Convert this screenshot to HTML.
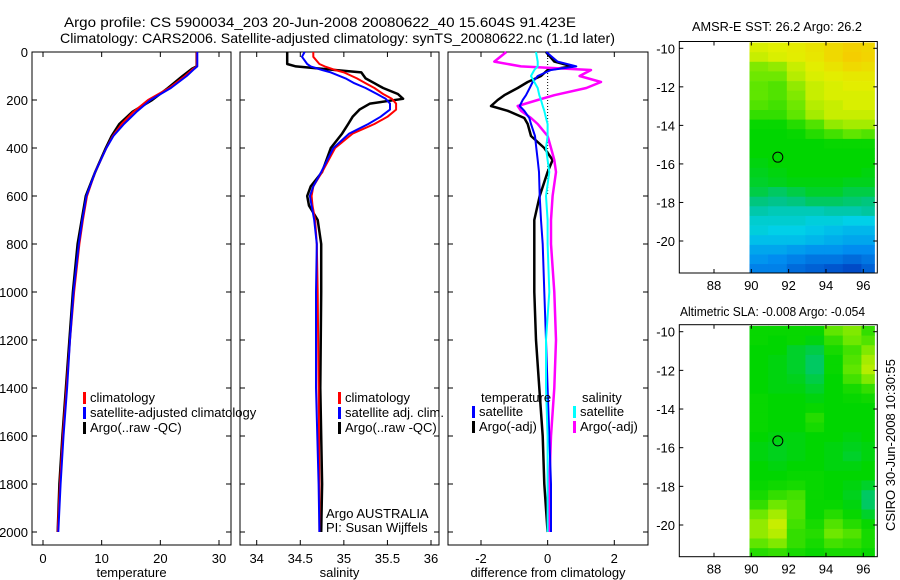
<!DOCTYPE html>
<html><head><meta charset="utf-8">
<style>
html,body{margin:0;padding:0;background:#fff;}
svg{display:block;font-family:"Liberation Sans",sans-serif;}
text{fill:#000;}
</style></head>
<body>
<svg id="fig" width="900" height="580" viewBox="0 0 900 580" xmlns="http://www.w3.org/2000/svg">
<text x="64" y="27" font-size="14" textLength="512" lengthAdjust="spacingAndGlyphs">Argo profile: CS 5900034_203 20-Jun-2008 20080622_40 15.604S 91.423E</text>
<text x="60" y="43" font-size="14" textLength="555" lengthAdjust="spacingAndGlyphs">Climatology: CARS2006. Satellite-adjusted climatology: synTS_20080622.nc (1.1d later)</text>
<text x="692" y="31" font-size="12.7" textLength="170" lengthAdjust="spacingAndGlyphs">AMSR-E SST: 26.2 Argo: 26.2</text>
<text x="680" y="316" font-size="12.7" textLength="185" lengthAdjust="spacingAndGlyphs">Altimetric SLA: -0.008 Argo: -0.054</text>
<text transform="translate(895,445) rotate(-90)" font-size="13" text-anchor="middle">CSIRO 30-Jun-2008 10:30:55</text>
<g id="g"></g>
</svg>
<script>
// ---------- data ----------
const tempClimDepth = [0,60,70,100,150,200,250,300,350,400,500,600,700,800,1000,1200,1400,1600,1800,2000];
const tempClim      = [26.2,26.2,25.6,24.2,21.5,17.9,15.4,13.4,11.9,10.8,8.9,7.5,6.8,6.2,5.3,4.6,4.0,3.4,2.9,2.5];
const tempSat       = [26.3,26.3,25.8,24.5,21.8,18.3,15.9,13.8,12.0,10.8,8.9,7.4,6.7,6.1,5.2,4.6,4.1,3.5,3.0,2.6];
const tempArgo      = [26.2,26.2,25.4,23.8,21.3,18.6,15.2,13.0,11.7,10.7,8.9,7.3,6.6,5.9,5.1,4.5,3.9,3.3,2.8,2.5];
const salDepth = [0,20,50,60,75,85,110,130,150,175,195,215,240,270,300,340,400,500,560,600,640,700,800,1000,1400,1800,2000];
const salClim  = [34.65,34.65,34.72,34.78,34.9,35.0,35.15,35.25,35.35,35.45,35.55,35.6,35.6,35.5,35.35,35.1,34.9,34.75,34.65,34.63,34.64,34.67,34.69,34.70,34.71,34.72,34.72];
const salSat   = [34.55,34.52,34.58,34.62,34.75,34.85,35.02,35.12,35.25,35.38,35.48,35.53,35.53,35.42,35.28,35.06,34.88,34.74,34.65,34.61,34.63,34.66,34.69,34.68,34.68,34.71,34.72];
const salArgo  = [34.35,34.35,34.35,34.45,34.9,35.2,35.25,35.35,35.45,35.62,35.68,35.3,35.18,35.1,35.05,34.98,34.85,34.75,34.62,34.58,34.60,34.70,34.74,34.74,34.73,34.75,34.74];
const diffDepth = [0,40,60,75,100,125,150,180,200,225,245,275,300,350,400,450,500,600,700,800,1000,1200,1400,1600,1800,2000];
const diffTempSat  = [-0.04,0.3,0.86,0.1,-0.3,-0.45,-0.54,-0.65,-0.75,-0.84,-0.7,-0.55,-0.5,-0.38,-0.34,-0.3,-0.26,-0.24,-0.2,-0.15,-0.1,-0.05,0.0,0.05,0.1,0.1];
const diffTempArgo = [-0.05,0.2,0.75,0.0,-0.2,-0.6,-0.9,-1.3,-1.5,-1.7,-1.2,-0.7,-0.6,-0.5,-0.1,0.15,0.0,-0.24,-0.4,-0.4,-0.4,-0.35,-0.25,-0.15,-0.1,0.0];
const diffSalSat   = [-0.35,-0.3,-0.3,-0.4,-0.5,-0.4,-0.3,-0.25,-0.2,-0.15,-0.1,-0.05,0.0,0.0,-0.05,0.0,0.05,-0.05,0.0,0.0,0.05,-0.05,-0.05,0.0,0.0,0.0];
const diffSalArgo  = [-1.24,-1.6,-0.8,1.3,0.96,1.6,1.16,0.2,-0.3,-0.9,-0.8,-0.5,-0.3,0.0,0.1,0.2,0.25,0.15,0.1,0.1,0.2,0.25,0.2,0.1,0.05,0.05];
const depthTicks = [0,200,400,600,800,1000,1200,1400,1600,1800,2000];
const tempTicks = [0,10,20,30];
const salTicks = [34,34.5,35,35.5,36];
const diffTicks = [-2,0,2];
const lonTicks = [88,90,92,94,96];
const latTicks = [-10,-12,-14,-16,-18,-20];
// map cells: rows = 0.5 deg lat from -9.7 southward, cols = 1 deg lon from 90
const sstRows = [
[.82,.83,.85,.88,.92,.95,.93],[.80,.82,.84,.87,.92,.96,.94],[.72,.74,.80,.84,.88,.92,.90],[.70,.70,.78,.82,.84,.86,.86],
[.68,.66,.74,.80,.82,.84,.84],[.68,.66,.72,.80,.82,.82,.82],[.66,.64,.70,.78,.80,.82,.82],[.62,.62,.68,.76,.80,.80,.80],
[.56,.56,.60,.66,.74,.76,.76],[.55,.55,.56,.60,.64,.68,.66],[.55,.55,.55,.55,.56,.56,.56],[.55,.55,.55,.55,.55,.55,.55],
[.54,.55,.55,.55,.55,.55,.55],[.53,.54,.55,.55,.55,.55,.54],[.52,.53,.54,.54,.54,.53,.53],[.50,.48,.50,.52,.52,.50,.50],
[.46,.45,.46,.48,.48,.47,.46],[.40,.38,.38,.38,.40,.40,.42],[.34,.34,.34,.32,.32,.30,.30],[.32,.30,.30,.28,.26,.24,.24],
[.26,.26,.26,.24,.22,.20,.20],[.20,.20,.18,.16,.16,.14,.14],[.16,.14,.12,.10,.10,.08,.10],[.12,.12,.08,.06,.04,.02,.06]];
const slaRows = [
[.56,.56,.56,.56,.68,.72,.62],[.56,.55,.56,.54,.62,.70,.66],[.55,.55,.52,.50,.58,.64,.72],[.55,.54,.52,.48,.56,.66,.76],
[.55,.54,.52,.48,.56,.68,.78],[.55,.54,.53,.50,.55,.64,.72],[.55,.54,.54,.52,.55,.58,.62],[.56,.55,.55,.54,.55,.56,.57],
[.56,.55,.55,.56,.55,.55,.55],[.56,.55,.55,.60,.55,.55,.55],[.56,.55,.55,.58,.55,.55,.55],[.55,.54,.54,.55,.55,.54,.55],
[.54,.53,.54,.55,.54,.53,.54],[.54,.53,.54,.55,.54,.52,.54],[.55,.54,.55,.55,.54,.54,.55],[.55,.55,.56,.56,.55,.55,.55],
[.56,.57,.58,.56,.55,.54,.52],[.58,.62,.64,.56,.55,.53,.48],[.62,.70,.66,.56,.56,.54,.48],[.70,.76,.66,.56,.60,.56,.52],
[.74,.80,.64,.58,.66,.60,.56],[.74,.78,.62,.60,.70,.66,.58],[.68,.72,.62,.58,.64,.62,.58],[.60,.62,.58,.56,.58,.58,.56]];
const argoLon = 91.42, argoLat = -15.65;

// ---------- helpers ----------
const NS="http://www.w3.org/2000/svg";
const G=document.getElementById('g');
const FS=13;
function mk(tag,attrs,parent){const e=document.createElementNS(NS,tag);for(const k in attrs)e.setAttribute(k,attrs[k]);(parent||G).appendChild(e);return e;}
function lin(d0,d1,r0,r1){return v=>r0+(v-d0)*(r1-r0)/(d1-d0);}
const yD = lin(0,2000,52,532);
function txt(x,y,s,anchor,size,parent){const t=mk('text',{x:x,y:y,'font-size':size||FS,'text-anchor':anchor||'start'},parent);t.textContent=s;return t;}

function panel(name,x0,x1,xs,xt,xlabel,fmt,showY){
  const g=mk('g',{});
  
  
  const fr=mk('rect',{x:x0,y:52,width:x1-x0,height:493,fill:'none',stroke:'#000','stroke-width':1},g);
  
  
  xt.forEach(v=>{const x=xs(v);
    mk('line',{x1:x,x2:x,y1:545,y2:540,stroke:'#000'},g);
    mk('line',{x1:x,x2:x,y1:52,y2:57,stroke:'#000'},g);
    const t=txt(x,563,fmt(v),'middle',FS,g);
    
    
  });
  depthTicks.forEach(d=>{const y=yD(d);
    mk('line',{x1:x0,x2:x0+5,y1:y,y2:y,stroke:'#000'},g);
    mk('line',{x1:x1,x2:x1-5,y1:y,y2:y,stroke:'#000'},g);
    if(showY){const t=txt(x0-4,y+5,String(d),'end',FS,g);
      
      }
  });
  const xl=txt((x0+x1)/2,577,xlabel,'middle',FS,g);
  
  
  return g;
}
function series(g,name,depths,vals,xs,color,w){
  const pts=depths.map((d,i)=>xs(vals[i]).toFixed(1)+','+yD(d).toFixed(1)).join(' ');
  const p=mk('polyline',{points:pts,fill:'none',stroke:color,'stroke-width':w||2,'stroke-linejoin':'round'},g);
  
  
}
function legend(g,name,x,y,items){
  items.forEach((it,i)=>{
    const m=mk('rect',{x:x,y:y+i*15-10,width:3,height:12,fill:it[1]},g);
    
    
    const t=txt(x+7,y+i*15,it[0],'start',FS,g);
    
    
  });
}

// ---------- temperature panel ----------
const xT=lin(0,30,43,219);
const gT=panel('temperature',32,231,xT,tempTicks,'temperature',v=>String(v),true);
series(gT,'temperature-argo-line',tempClimDepth,tempArgo,xT,'#000',2.5);
series(gT,'temperature-climatology-line',tempClimDepth,tempClim,xT,'#f00',2);
series(gT,'temperature-satellite-line',tempClimDepth,tempSat,xT,'#00f',2);
legend(gT,'temperature',83,402,[['climatology','#f00'],['satellite-adjusted climatology','#00f'],['Argo(..raw -QC)','#000']]);

// ---------- salinity panel ----------
const xS=lin(34,36,256.7,431);
const gS=panel('salinity',240,439,xS,salTicks,'salinity',v=>String(v),false);
series(gS,'salinity-argo-line',salDepth,salArgo,xS,'#000',2.5);
series(gS,'salinity-climatology-line',salDepth,salClim,xS,'#f00',2);
series(gS,'salinity-satellite-line',salDepth,salSat,xS,'#00f',2);
legend(gS,'salinity',338,402,[['climatology','#f00'],['satellite adj. clim.','#00f'],['Argo(..raw -QC)','#000']]);
const a1=txt(326,518,'Argo AUSTRALIA','start',FS,gS);


const a2=txt(326,532,'PI: Susan Wijffels','start',FS,gS);



// ---------- difference panel ----------
const xDf=lin(-2,2,481,614.3);
const gD=panel('difference',448,648,xDf,diffTicks,'difference from climatology',v=>String(v),false);
const zl=mk('line',{x1:xDf(0),x2:xDf(0),y1:52,y2:yD(600),stroke:'#000','stroke-dasharray':'1,2'},gD);


series(gD,'diff-temp-argo-line',diffDepth,diffTempArgo,xDf,'#000',2.5);
series(gD,'diff-sal-argo-line',diffDepth,diffSalArgo,xDf,'#f0f',2.5);
series(gD,'diff-temp-satellite-line',diffDepth,diffTempSat,xDf,'#00f',2);
series(gD,'diff-sal-satellite-line',diffDepth,diffSalSat,xDf,'#0ff',2);
const lt=txt(481,402,'temperature','start',FS,gD);


const ls=txt(582,402,'salinity','start',FS,gD);


legend(gD,'diff-temperature',472,416,[['satellite','#00f'],['Argo(-adj)','#000']]);
legend(gD,'diff-salinity',573,416,[['satellite','#0ff'],['Argo(-adj)','#f0f']]);

// ---------- maps ----------
const cstops=[[0,[0,64,192]],[0.14,[0,140,240]],[0.3,[0,208,232]],[0.45,[0,196,140]],[0.55,[0,214,0]],[0.7,[110,232,0]],[0.83,[226,240,0]],[1,[250,196,0]]];
function cmap(v){v=Math.max(0,Math.min(1,v));for(let i=1;i<cstops.length;i++){if(v<=cstops[i][0]){const a=cstops[i-1],b=cstops[i],t=(v-a[0])/(b[0]-a[0]);const c=a[1].map((x,k)=>Math.round(x+(b[1][k]-x)*t));return 'rgb('+c.join(',')+')';}}return 'rgb(250,196,0)';}
function map(name,top,bottom,latM10,latM20,rows){
  const xs=lin(88,96,714,863.3), ys=lin(-10,-20,latM10,latM20);
  const g=mk('g',{});
  
  
  rows.forEach((row,r)=>{row.forEach((v,c)=>{
    const la0=-9.7-r*0.5, lo0=89.9+c, lo1=Math.min(lo0+1,96.6);
    const y0=Math.max(top,ys(la0)), y1=Math.min(bottom,ys(la0-0.5));
    const cell=mk('rect',{x:xs(lo0).toFixed(1),y:y0.toFixed(1),width:(xs(lo1)-xs(lo0)+0.4).toFixed(1),height:(y1-y0+0.4).toFixed(1),fill:cmap(v)},g);
    
    
  });});
  const fr=mk('rect',{x:679.3,y:top,width:198,height:bottom-top,fill:'none',stroke:'#000'},g);
  
  
  lonTicks.forEach(l=>{const x=xs(l);
    mk('line',{x1:x,x2:x,y1:bottom,y2:bottom-4,stroke:'#000'},g);
    mk('line',{x1:x,x2:x,y1:top,y2:top+4,stroke:'#000'},g);
    const t=txt(x,bottom+17,String(l),'middle',FS,g);
    
    
  });
  latTicks.forEach(l=>{const y=ys(l);
    mk('line',{x1:679.3,x2:683.3,y1:y,y2:y,stroke:'#000'},g);
    mk('line',{x1:877.3,x2:873.3,y1:y,y2:y,stroke:'#000'},g);
    const t=txt(675,y+5,String(l),'end',FS,g);
    
    
  });
  const c=mk('circle',{cx:xs(argoLon),cy:ys(argoLat),r:5,fill:'none',stroke:'#000'},g);
  
  
}
map('sst',41.5,273,48.3,241,sstRows);
map('sla',324.7,556.7,331.7,525,slaRows);
</script>
</body></html>
